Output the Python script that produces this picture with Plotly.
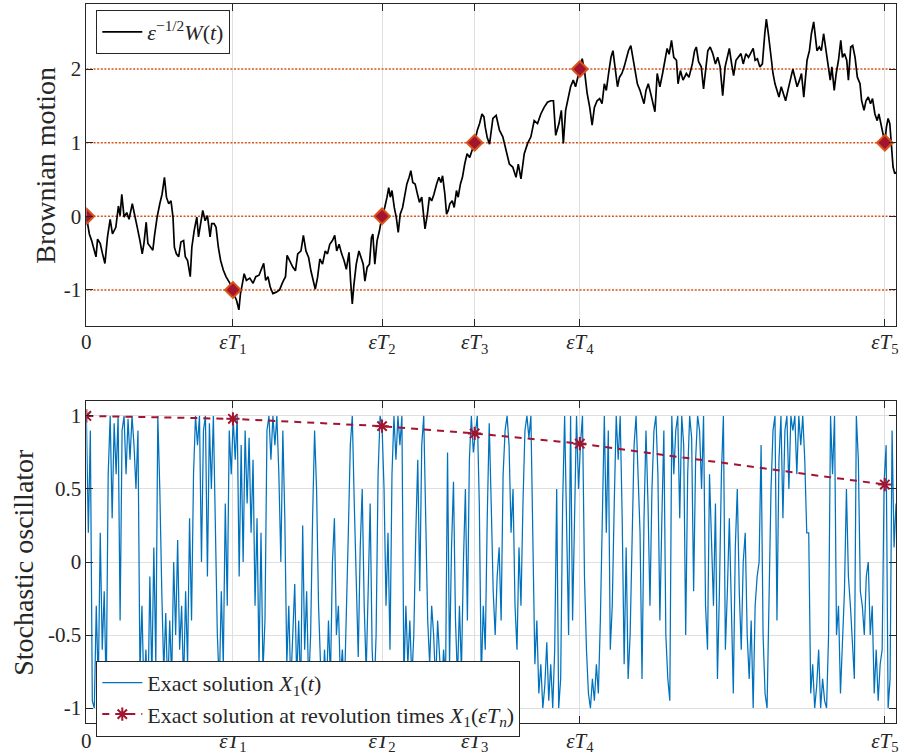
import numpy as np
import plotly.graph_objects as go

# ---------------- data ----------------
# Brownian path  eps^{-1/2} W(t)  (time in arbitrary units, axis 0 .. 8.16)
BM_T = [
    0.000, 0.030, 0.053, 0.080, 0.097, 0.113, 0.140, 0.163, 0.187, 0.213,
    0.240, 0.263, 0.297, 0.323, 0.340, 0.357, 0.380, 0.407, 0.430, 0.463,
    0.487, 0.513, 0.540, 0.563, 0.580, 0.603, 0.620, 0.647, 0.670, 0.687,
    0.713, 0.740, 0.763, 0.787, 0.807, 0.830, 0.853, 0.873, 0.887, 0.907,
    0.930, 0.953, 0.980, 0.997, 1.020, 1.047, 1.063, 1.087, 1.113, 1.130,
    1.153, 1.173, 1.197, 1.220, 1.247, 1.263, 1.287, 1.307, 1.330, 1.353,
    1.380, 1.407, 1.447, 1.477, 1.497, 1.513, 1.537, 1.553, 1.573, 1.590,
    1.613, 1.647, 1.680, 1.707, 1.740, 1.763, 1.787, 1.807, 1.830, 1.853,
    1.880, 1.913, 1.947, 1.980, 2.007, 2.023, 2.047, 2.080,
    2.107, 2.130, 2.163, 2.187, 2.213, 2.240, 2.263, 2.287, 2.307, 2.330,
    2.353, 2.380, 2.407, 2.430, 2.453, 2.480, 2.503, 2.523, 2.547, 2.573,
    2.597, 2.620, 2.647, 2.663, 2.680, 2.697, 2.720, 2.747, 2.770, 2.790,
    2.807, 2.830, 2.853, 2.873, 2.887, 2.907, 2.930, 2.953, 2.980, 3.007,
    3.030, 3.047, 3.063, 3.080, 3.103, 3.123, 3.143, 3.163, 3.187, 3.207,
    3.230, 3.253, 3.270, 3.290, 3.313, 3.337, 3.357, 3.380, 3.397, 3.413,
    3.437, 3.457, 3.480, 3.503, 3.530, 3.553, 3.573, 3.590, 3.613, 3.630,
    3.647, 3.663, 3.687, 3.707, 3.730, 3.747, 3.770, 3.790, 3.813, 3.837,
    3.863, 3.890, 3.913, 3.940, 3.963, 3.987, 4.007, 4.020, 4.040, 4.063,
    4.097, 4.130, 4.163, 4.197, 4.230, 4.263, 4.297, 4.330, 4.353, 4.380,
    4.413, 4.447, 4.480, 4.513, 4.547, 4.580, 4.613, 4.647, 4.680, 4.707,
    4.730, 4.763, 4.787, 4.807, 4.830, 4.853, 4.880, 4.907, 4.930, 4.953,
    4.973, 4.997, 5.020, 5.047, 5.073, 5.097, 5.120, 5.147, 5.173, 5.197,
    5.220, 5.240, 5.263, 5.287, 5.307, 5.330, 5.353, 5.373, 5.397, 5.420,
    5.440, 5.463, 5.487, 5.507, 5.530, 5.553, 5.580, 5.603, 5.620, 5.640,
    5.663, 5.687, 5.707, 5.730, 5.753, 5.780, 5.807, 5.830, 5.853, 5.873,
    5.897, 5.920, 5.947, 5.963, 5.987, 6.013, 6.047, 6.073,
    6.107, 6.130, 6.147, 6.170, 6.197, 6.220, 6.240, 6.263, 6.287, 6.313,
    6.340, 6.363, 6.387, 6.413, 6.437, 6.463, 6.480, 6.503, 6.523, 6.547,
    6.573, 6.597, 6.620, 6.647, 6.673, 6.697, 6.720, 6.740, 6.763, 6.787,
    6.813, 6.837, 6.853, 6.873, 6.897, 6.920, 6.940, 6.963, 6.980, 7.003,
    7.023, 7.047, 7.070, 7.097, 7.120, 7.140, 7.163, 7.187, 7.207, 7.230,
    7.247, 7.263, 7.287, 7.307, 7.330, 7.347, 7.363, 7.387, 7.407, 7.430,
    7.453, 7.473, 7.497, 7.513, 7.537, 7.557, 7.580, 7.603, 7.620, 7.640,
    7.663, 7.680, 7.703, 7.723, 7.747, 7.770, 7.797, 7.813, 7.837, 7.857,
    7.880, 7.903, 7.923, 7.947, 7.970, 7.987, 8.007, 8.030, 8.047, 8.063,
    8.080, 8.097, 8.113, 8.130, 8.147, 8.160,
]
BM_W = [
    0.00, -0.24, -0.33, -0.46, -0.55, -0.31, -0.37, -0.51, -0.64, -0.28,
    -0.04, -0.24, -0.15, 0.14, 0.01, 0.30, -0.01, 0.05, -0.04, 0.17,
    -0.01, -0.15, -0.33, -0.51, -0.37, -0.08, -0.37, -0.42, -0.46, -0.26,
    -0.01, 0.17, 0.30, 0.53, 0.26, 0.17, 0.21, -0.01, -0.42, -0.51,
    -0.55, -0.35, -0.33, -0.55, -0.60, -0.82, -0.42, -0.19, -0.01, -0.28,
    -0.06, 0.08, -0.06, 0.01, -0.28, -0.10, -0.10, -0.15, -0.42, -0.60,
    -0.73, -0.82, -0.91, -1.00, -1.09, -1.14, -1.27, -1.05, -0.91, -0.78,
    -0.87, -0.84, -0.91, -0.82, -0.80, -0.71, -0.64, -0.87, -0.82, -0.96,
    -1.05, -1.03, -1.00, -0.89, -0.82, -0.53, -0.60, -0.69,
    -0.74, -0.51, -0.47, -0.26, -0.47, -0.56, -0.74, -0.88, -0.99, -0.83,
    -0.58, -0.65, -0.47, -0.51, -0.38, -0.33, -0.26, -0.47, -0.38, -0.51,
    -0.60, -0.72, -0.49, -0.88, -1.19, -0.92, -0.65, -0.47, -0.56, -0.65,
    -0.88, -0.69, -0.65, -0.29, -0.24, -0.65, -0.33, -0.20, 0.00, 0.12,
    0.26, 0.39, 0.26, 0.35, 0.12, -0.01, -0.22, 0.03, 0.12, 0.30,
    0.44, 0.53, 0.62, 0.46, 0.44, 0.30, 0.19, 0.26, -0.01, -0.17,
    0.03, 0.26, 0.21, 0.30, 0.44, 0.53, 0.46, 0.55, 0.30, 0.03,
    0.08, 0.17, 0.21, 0.12, 0.35, 0.26, 0.44, 0.53, 0.71, 0.85,
    0.80, 0.91, 1.00, 1.17, 1.26, 1.39, 1.35, 1.21, 1.07, 0.98,
    1.33, 1.37, 1.17, 1.08, 0.90, 0.71, 0.67, 0.53, 0.71, 0.51,
    0.85, 0.99, 1.08, 1.30, 1.26, 1.39, 1.48, 1.55, 1.57, 1.57,
    1.10, 1.26, 1.44, 0.99, 1.44, 1.57, 1.76, 1.85, 1.76, 1.89,
    2.00, 2.14, 1.98, 1.67, 1.48, 1.24, 1.48, 1.57, 1.60, 1.53,
    1.80, 1.71, 1.94, 2.16, 2.25, 2.03, 1.76, 1.89, 1.94, 2.03,
    2.12, 2.25, 2.32, 2.16, 1.94, 1.80, 1.71, 1.62, 1.53, 1.71,
    1.80, 1.67, 1.57, 1.42, 1.94, 1.76, 1.94, 2.12, 2.28, 2.20,
    2.39, 2.16, 2.12, 1.80, 1.98, 1.85, 1.94, 1.89,
    2.07, 2.25, 2.30, 2.10, 2.03, 1.73, 1.94, 2.25, 2.30, 2.21,
    2.07, 2.16, 2.03, 1.64, 2.03, 2.21, 2.28, 2.07, 1.91, 2.12,
    2.16, 2.21, 2.07, 2.21, 2.16, 2.23, 2.28, 2.12, 2.14, 2.03,
    2.07, 2.48, 2.68, 2.48, 2.21, 1.94, 1.80, 1.69, 1.62, 1.76,
    1.67, 1.57, 1.71, 1.85, 2.00, 1.89, 1.76, 1.85, 1.94, 1.62,
    1.94, 2.12, 2.25, 2.48, 2.64, 2.39, 2.25, 2.30, 2.25, 2.48,
    2.25, 2.03, 1.85, 2.03, 1.71, 1.94, 2.12, 2.39, 2.16, 2.21,
    2.12, 1.85, 2.30, 2.32, 2.16, 1.89, 1.80, 1.57, 1.44, 1.57,
    1.62, 1.53, 1.60, 1.39, 1.30, 1.39, 1.26, 1.12, 1.00, 1.21,
    1.33, 1.26, 0.90, 0.67, 0.58, 0.60,
]

# Stochastic oscillator X1(t), sampled every X1_DT time units from 0
X1_DT = 0.02
X1_VALS = [
    1.0, 0.2, 0.9, -0.95, -1.0, -0.3, -0.85, 0.2, -0.6, -0.2,
    -0.9, 0.6, 1.0, 0.3, 0.95, 0.6, 1.0, -0.4, 0.9, 1.0,
    0.6, 0.98, 0.7, 1.0, 0.8, 0.5, 0.9, -0.75, -0.3, -0.9,
    -0.6, -1.0, -0.1, -0.8, 0.1, -0.7, 1.0, 0.5, -0.2, -0.75,
    -0.35, -0.9, -0.4, -0.8, 0.0, -0.5, 0.15, -0.6, -0.3, -0.85,
    -0.2, -0.7, 0.3, -0.4, 0.6, 1.0, 0.8, 1.0, 0.0, 0.9,
    1.0, -0.1, 0.95, 0.5, 1.0, 0.3, -0.5, -0.85, -0.2, -0.7,
    0.4, -0.3, 0.9, 0.6, 0.98, 0.7, 1.0, -0.1, 0.8, 0.0,
    0.9, 0.4, 0.85, 0.2, 0.7, -0.3, 0.3, -0.7, 0.2, -0.75,
    -0.4, 0.9, 1.0, 0.7, 1.0, 0.8, 1.0, 0.6, 0.0, 0.9,
    0.3, -0.7, -0.3, -0.85, -0.5, -0.15, -0.8, -0.4, -0.9, 0.25,
    -0.6, -0.2, -0.85, -0.5, 0.3, 0.9, 0.5, -0.3, -0.7, -0.95,
    -0.6, -0.9, -0.4, -0.8, 0.0, 0.3, -0.5, -0.3, -0.8, -0.6,
    -0.9, -0.4, 0.2, 0.8, 1.0, 0.4, -0.2, -0.65, 0.1, 0.5,
    -0.3, -0.75, -0.2, 0.4, -0.6, -0.9, -0.5, 0.6, 1.0, 0.93,
    0.5, -0.3, 0.2, -0.6, 0.6, 1.0, 0.7, 1.0, 0.8, 1.0,
    -0.8, -0.3, -0.7, -0.4, -0.8, -0.5, 0.2, 0.7, -0.2, 0.8,
    1.0, 0.3, -0.4, -0.7, -0.3, -0.5, -0.85, -0.4, -0.7, -0.9,
    -0.6, -0.8, 0.75, -0.7, 0.1, 0.55, -0.4, -0.8, -0.3, -0.75,
    0.0, 0.5, -0.4, 0.7, 1.0, 0.75, 0.88, 1.0, 0.4, -0.8,
    -0.3, -0.6, 0.3, 0.95, 0.4, -0.2, -0.5, -0.1, 0.1, -0.4,
    0.6, 0.9, 1.0, 0.8, 0.2, 0.5, -0.3, -0.6, 0.1, -0.3,
    0.4, 0.9, 1.0, 0.85, 1.0, 0.1, -0.7, -0.4, -0.9, -0.7,
    -1.0, -0.85, -0.55, -0.95, -0.7, -1.0, -0.6, 0.5, -1.0, -0.8,
    0.4, 1.0, 0.2, -0.5, 1.0, -0.4, 0.3, 1.0, 0.5, 0.81,
    1.0, -0.1, -0.6, -0.9, -1.0, -0.8, -0.95, -0.7, -0.9, -0.4,
    0.3, 1.0, 0.2, 0.9, -0.6, -0.3, 0.4, 1.0, 0.7, 1.0,
    0.3, -0.7, 0.1, -0.8, -0.5, 0.1, 0.8, 1.0, 0.6, 0.2,
    -0.8, 0.3, 0.9, 0.4, -0.3, 0.5, 0.9, 1.0, 0.6, -0.4,
    0.3, 0.9, -0.5, -0.8, -0.95, 1.0, 0.6, 0.9, 1.0, 0.3,
    1.0, 0.8, -0.5, 0.6, 1.0, 0.85, -0.2, 0.7, 1.0, 0.9,
    0.5, 1.0, -0.3, -0.6, 0.6, 0.2, -0.3, 0.4, -0.8, -0.2,
    0.6, 1.0, -0.6, -0.2, 0.3, -0.3, -0.9, 0.1, 0.5, -0.2,
    -0.6, 0.0, 0.2, -0.5, -0.8, -0.4, -1.0, -0.3, -0.1, 0.0,
    0.8, -0.5, -0.9, -1.0, -0.2, 0.5, 0.9, 1.0, -0.4, 0.7,
    1.0, 0.3, 0.9, 1.0, 0.5, 1.0, 0.9, 1.0, 0.6, 1.0,
    0.8, 1.0, 0.7, 0.2, 0.2, -0.9, -0.7, -1.0, -0.85, -0.6,
    -1.0, -0.8, -0.95, -1.0, -0.5, 1.0, 0.6, 1.0, -0.5, -0.3,
    -0.9, -0.5, -0.2, 0.5, -0.1, -0.3, -0.6, -0.8, 1.0, 0.7,
    -0.2, -0.3, -0.5, -0.1, 0.0, -0.5, -0.3, -0.9, -0.6, -0.95,
    -0.7, -0.6, 0.55, 0.8, -1.0, -0.8, 0.9, 0.1, 0.4,
]

# revolution times eps*T_n and values there
REV_T = [0.0, 1.477, 2.98, 3.913, 4.973, 8.047]
REV_W = [0, -1, 0, 1, 2, 1]
REV_X1 = [1.0, 0.98, 0.93, 0.88, 0.81, 0.53]
REV_LABELS = ["0", "<i>εT</i><sub>1</sub>", "<i>εT</i><sub>2</sub>",
              "<i>εT</i><sub>3</sub>", "<i>εT</i><sub>4</sub>", "<i>εT</i><sub>5</sub>"]
LEVELS = [-1, 0, 1, 2]
T_END = 8.16

X1_T = np.arange(len(X1_VALS)) * X1_DT

# ---------------- styling ----------------
FONT = "Liberation Serif"
AX = "#262626"
GRID = "#dfdfdf"
BLUE = "#0072BD"
ORANGE = "#D95319"
DARKRED = "#A2142F"
W, H = 904, 756

fig = go.Figure()

# dotted integer levels (top panel)
for lv in LEVELS:
    fig.add_trace(go.Scatter(x=[0, T_END], y=[lv, lv], mode="lines",
                             line=dict(color=ORANGE, width=1.5, dash="2px,1.6px"),
                             showlegend=False, hoverinfo="skip",
                             xaxis="x", yaxis="y"))

fig.add_trace(go.Scatter(x=BM_T, y=BM_W, mode="lines",
                         line=dict(color="black", width=1.7),
                         name="<i>ε</i><sup>−1/2</sup><i>W</i>(<i>t</i>)",
                         legend="legend", xaxis="x", yaxis="y"))
fig.add_trace(go.Scatter(x=REV_T, y=REV_W, mode="markers",
                         marker=dict(symbol="diamond", size=12, color=DARKRED,
                                     line=dict(color=ORANGE, width=2)),
                         showlegend=False, xaxis="x", yaxis="y"))

# bottom panel
fig.add_trace(go.Scatter(x=X1_T, y=X1_VALS, mode="lines",
                         line=dict(color=BLUE, width=1.25),
                         name="Exact solution <i>X</i><sub>1</sub>(<i>t</i>)",
                         legend="legend2", xaxis="x2", yaxis="y2"))
fig.add_trace(go.Scatter(x=REV_T, y=REV_X1, mode="lines+markers",
                         line=dict(color=DARKRED, width=2, dash="7px,6px"),
                         marker=dict(symbol="asterisk-open", size=11,
                                     line=dict(color=DARKRED, width=2)),
                         name="Exact solution at revolution times "
                              "<i>X</i><sub>1</sub>(<i>εT</i><sub><i>n</i></sub>)",
                         legend="legend2", xaxis="x2", yaxis="y2"))

xdom = [82 / W, 898 / W]
common_x = dict(range=[0, T_END], tickmode="array", tickvals=REV_T, ticktext=REV_LABELS,
                showline=True, linecolor=AX, linewidth=1, mirror="ticks",
                ticks="inside", ticklen=7, tickcolor=AX, showgrid=True,
                gridcolor=GRID, gridwidth=1, zeroline=False,
                tickfont=dict(family=FONT, size=21, color=AX), domain=xdom)
common_y = dict(showline=True, linecolor=AX, linewidth=1, mirror="ticks",
                ticks="inside", ticklen=7, tickcolor=AX, zeroline=False,
                tickfont=dict(family=FONT, size=21, color=AX))

fig.update_layout(
    width=W, height=H, margin=dict(l=0, r=0, t=0, b=0),
    paper_bgcolor="white", plot_bgcolor="white",
    font=dict(family=FONT, color=AX),
    xaxis=dict(**common_x, anchor="y", ticklabelstandoff=-3),
    yaxis=dict(**common_y, range=[-1.49, 2.884], tickvals=[-1, 0, 1, 2],
               ticktext=["-1", "0", "1", "2"], showgrid=False,
               domain=[1 - 326 / H, 1 - 4 / H], anchor="x"),
    xaxis2=dict(**common_x, anchor="y2", ticklabelstandoff=-1),
    yaxis2=dict(**common_y, range=[-1.1, 1.1], tickvals=[-1, -0.5, 0, 0.5, 1],
                ticktext=["-1", "-0.5", "0", "0.5", "1"], showgrid=True,
                gridcolor=GRID, domain=[1 - 722.7 / H, 1 - 401.3 / H], anchor="x2"),
    legend=dict(x=92 / W, y=1 - 10 / H, xanchor="left", yanchor="top",
                bgcolor="white", bordercolor=AX, borderwidth=1,
                font=dict(family=FONT, size=22, color=AX), itemwidth=40,
                tracegroupgap=0),
    legend2=dict(x=92 / W, y=1 - 660.7 / H, xanchor="left", yanchor="top",
                 bgcolor="white", bordercolor=AX, borderwidth=1,
                 font=dict(family=FONT, size=22, color=AX), itemwidth=40,
                 tracegroupgap=0),
    showlegend=True,
    annotations=[
        dict(text="Brownian motion", x=40 / W, y=1 - 165 / H, xref="paper", yref="paper",
             xanchor="center", yanchor="middle",
             textangle=-90, showarrow=False, font=dict(family=FONT, size=28, color=AX)),
        dict(text="Stochastic oscillator", x=18 / W, y=1 - 562 / H, xref="paper",
             yref="paper", xanchor="center", yanchor="middle", textangle=-90,
             showarrow=False, font=dict(family=FONT, size=28, color=AX)),
    ],
)

fig.write_html("out.html", config={"displayModeBar": False},
               post_script="document.body.style.margin='0';"
                           "document.body.style.overflow='hidden';")
